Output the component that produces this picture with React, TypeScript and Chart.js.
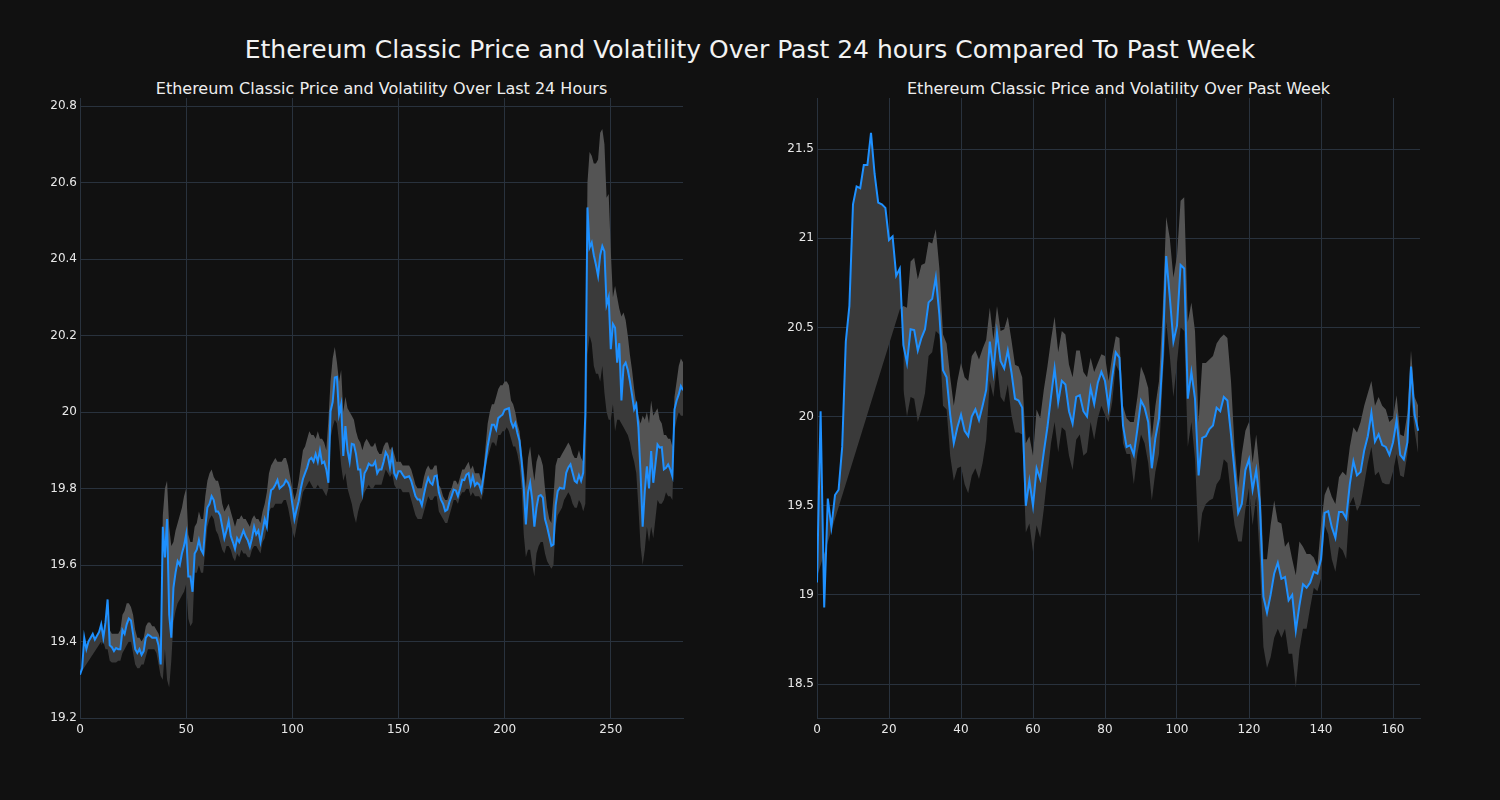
import React, { useEffect, useRef } from "react";
import { Chart, registerables } from "chart.js";

Chart.register(...registerables);

const MAIN_TITLE = "Ethereum Classic Price and Volatility Over Past 24 hours Compared To Past Week";
const LEFT_TITLE = "Ethereum Classic Price and Volatility Over Last 24 Hours";
const RIGHT_TITLE = "Ethereum Classic Price and Volatility Over Past Week";

// ---- Last 24 hours (index 0..284) ----
const dayPrice: number[] = [
  19.313, 19.33, 19.41, 19.38, 19.40, 19.41, 19.42, 19.405, 19.415, 19.425,
  19.445, 19.41, 19.45, 19.51, 19.39, 19.385, 19.375, 19.383, 19.38, 19.38,
  19.43, 19.42, 19.445, 19.46, 19.455, 19.42, 19.38, 19.37, 19.38, 19.365,
  19.375, 19.41, 19.418, 19.415, 19.41, 19.41, 19.41, 19.39, 19.34, 19.70,
  19.62, 19.72, 19.47, 19.41, 19.54, 19.58, 19.61, 19.60, 19.63, 19.65,
  19.68, 19.57, 19.57, 19.53, 19.63, 19.64, 19.665, 19.64, 19.63, 19.70,
  19.75, 19.76, 19.78, 19.77, 19.74, 19.74, 19.73, 19.70, 19.67, 19.69,
  19.715, 19.676, 19.66, 19.642, 19.67, 19.66, 19.675, 19.69, 19.675, 19.665,
  19.647, 19.67, 19.70, 19.68, 19.69, 19.66, 19.69, 19.72, 19.70, 19.76,
  19.796, 19.80, 19.81, 19.822, 19.80, 19.805, 19.81, 19.822, 19.815, 19.80,
  19.76, 19.72, 19.745, 19.767, 19.80, 19.825, 19.84, 19.855, 19.875, 19.88,
  19.87, 19.89, 19.87, 19.90, 19.866, 19.87, 19.85, 19.815, 20.002, 20.026,
  20.09, 20.092, 19.994, 20.02, 19.885, 19.963, 19.90, 19.87, 19.917, 19.915,
  19.89, 19.85, 19.85, 19.794, 19.84, 19.85, 19.865, 19.86, 19.86, 19.87,
  19.84, 19.85, 19.85, 19.87, 19.895, 19.885, 19.855, 19.89, 19.84, 19.828,
  19.845, 19.845, 19.836, 19.828, 19.83, 19.832, 19.82, 19.80, 19.78, 19.771,
  19.771, 19.756, 19.785, 19.81, 19.828, 19.815, 19.81, 19.832, 19.834, 19.79,
  19.771, 19.76, 19.741, 19.745, 19.765, 19.78, 19.797, 19.795, 19.78, 19.80,
  19.823, 19.822, 19.836, 19.84, 19.81, 19.832, 19.808, 19.815, 19.81, 19.793,
  19.83, 19.87, 19.91, 19.94, 19.967, 19.967, 19.954, 19.984, 19.989, 19.993,
  20.006, 20.008, 20.01, 19.975, 19.96, 19.971, 19.945, 19.925, 19.87, 19.80,
  19.706, 19.79, 19.815, 19.77, 19.70, 19.75, 19.78, 19.783, 19.776, 19.72,
  19.70, 19.675, 19.65, 19.654, 19.755, 19.793, 19.802, 19.80, 19.80, 19.841,
  19.855, 19.863, 19.841, 19.82, 19.815, 19.835, 19.82, 19.841, 19.994, 20.535,
  20.43, 20.443, 20.41, 20.385, 20.356, 20.41, 20.434, 20.42, 20.28, 20.30,
  20.164, 20.23, 20.22, 20.129, 20.18, 20.03, 20.12, 20.129, 20.11, 20.08,
  20.045, 20.007, 20.02, 19.96, 19.84, 19.70, 19.793, 19.858, 19.80, 19.898,
  19.815, 19.863, 19.915, 19.907, 19.908, 19.85, 19.854, 19.863, 19.85, 19.832,
  20.007, 20.03, 20.046, 20.068, 20.057,
];

const dayUpper: (number | null)[] = [
  19.315, null, null, null, null, null, null, null, null, null,
  19.40, 19.42, 19.44, 19.45, 19.43, 19.42, 19.42, 19.42, 19.42, 19.43,
  19.47, 19.48, 19.50, 19.50, 19.49, 19.47, 19.43, 19.41, 19.41, 19.40,
  19.41, 19.44, 19.45, 19.45, 19.44, 19.44, 19.43, 19.42, 19.40, 19.73,
  19.80, 19.82, 19.70, 19.65, 19.66, 19.69, 19.71, 19.73, 19.75, 19.78,
  19.80, 19.68, 19.66, 19.66, 19.70, 19.71, 19.74, 19.72, 19.72, 19.78,
  19.82, 19.84, 19.85, 19.83, 19.82, 19.82, 19.80, 19.76, 19.74, 19.75,
  19.76, 19.74, 19.72, 19.70, 19.72, 19.72, 19.73, 19.72, 19.72, 19.71,
  19.70, 19.72, 19.73, 19.72, 19.72, 19.71, 19.74, 19.76, 19.79, 19.84,
  19.86, 19.87, 19.88, 19.87, 19.87, 19.87, 19.88, 19.88, 19.86, 19.83,
  19.80, 19.77, 19.79, 19.82, 19.86, 19.90, 19.91, 19.93, 19.95, 19.94,
  19.94, 19.93, 19.95, 19.93, 19.93, 19.92, 19.90, 19.98, 20.08, 20.14,
  20.17, 20.13, 20.08, 20.11, 20.00, 20.04, 20.01, 20.00, 19.99, 19.98,
  19.95, 19.93, 19.92, 19.90, 19.92, 19.93, 19.92, 19.91, 19.91, 19.92,
  19.90, 19.89, 19.89, 19.91, 19.92, 19.92, 19.90, 19.91, 19.89, 19.87,
  19.87, 19.87, 19.86, 19.86, 19.86, 19.86, 19.85, 19.83, 19.81, 19.80,
  19.80, 19.80, 19.83, 19.85, 19.86, 19.85, 19.85, 19.86, 19.86, 19.81,
  19.80, 19.78, 19.77, 19.77, 19.79, 19.80, 19.82, 19.82, 19.81, 19.83,
  19.85, 19.85, 19.86, 19.87, 19.85, 19.86, 19.84, 19.84, 19.84, 19.82,
  19.85, 19.91, 19.97, 20.00, 20.02, 20.02, 20.04, 20.06, 20.07, 20.07,
  20.08, 20.08, 20.07, 20.03, 20.02, 20.00, 19.97, 19.95, 19.90, 19.85,
  19.80, 19.88, 19.91, 19.86, 19.82, 19.87, 19.89, 19.88, 19.86, 19.80,
  19.75, 19.72, 19.71, 19.78, 19.86, 19.88, 19.88, 19.89, 19.90, 19.91,
  19.92, 19.91, 19.89, 19.88, 19.88, 19.90, 19.88, 19.87, 20.00, 20.60,
  20.68, 20.67, 20.65, 20.65, 20.66, 20.73, 20.74, 20.70, 20.56, 20.57,
  20.42, 20.30, 20.33, 20.30, 20.27, 20.25, 20.26, 20.24, 20.20, 20.15,
  20.11, 20.06, 20.02, 19.99, 19.97, 19.99, 19.98, 20.00, 19.97, 20.03,
  19.99, 20.00, 20.01, 19.98, 19.97, 19.94, 19.94, 19.93, 19.93, 19.91,
  20.04, 20.08, 20.12, 20.14, 20.13,
];

const dayLower: (number | null)[] = [
  null, null, null, null, null, null, null, null, null, null,
  19.39, 19.40, 19.38, 19.38, 19.35, 19.345, 19.345, 19.345, 19.35, 19.35,
  19.37, 19.38, 19.39, 19.40, 19.40, 19.37, 19.34, 19.33, 19.33, 19.34,
  19.34, 19.36, 19.38, 19.38, 19.38, 19.38, 19.37, 19.34, 19.31, 19.30,
  19.38, 19.30, 19.28, 19.35, 19.45, 19.48, 19.50, 19.51, 19.52, 19.53,
  19.55, 19.46, 19.44, 19.45, 19.58, 19.58, 19.60, 19.58, 19.58, 19.64,
  19.70, 19.72, 19.73, 19.72, 19.69, 19.68, 19.66, 19.64, 19.63, 19.65,
  19.65, 19.64, 19.62, 19.61, 19.63, 19.62, 19.64, 19.63, 19.63, 19.62,
  19.62, 19.64, 19.65, 19.65, 19.64, 19.63, 19.66, 19.67, 19.70, 19.74,
  19.75, 19.75, 19.76, 19.76, 19.76, 19.76, 19.77, 19.77, 19.75, 19.72,
  19.69, 19.67, 19.70, 19.73, 19.76, 19.79, 19.80, 19.81, 19.82, 19.81,
  19.80, 19.80, 19.81, 19.80, 19.80, 19.79, 19.78, 19.80, 19.93, 19.96,
  19.98, 19.97, 19.92, 19.86, 19.82, 19.84, 19.80, 19.78, 19.76, 19.73,
  19.71, 19.74, 19.76, 19.77, 19.79, 19.80, 19.81, 19.80, 19.80, 19.81,
  19.81, 19.81, 19.81, 19.83, 19.85, 19.84, 19.83, 19.84, 19.81, 19.80,
  19.80, 19.80, 19.79, 19.79, 19.79, 19.79, 19.77, 19.75, 19.73, 19.72,
  19.72, 19.72, 19.74, 19.76, 19.78, 19.77, 19.77, 19.78, 19.78, 19.74,
  19.73, 19.72, 19.71, 19.71, 19.73, 19.75, 19.77, 19.77, 19.76, 19.78,
  19.79, 19.79, 19.80, 19.80, 19.78, 19.79, 19.78, 19.78, 19.78, 19.77,
  19.79, 19.85, 19.88, 19.90, 19.92, 19.92, 19.91, 19.94, 19.94, 19.95,
  19.95, 19.96, 19.95, 19.93, 19.91, 19.91, 19.89, 19.86, 19.80, 19.68,
  19.62, 19.64, 19.64, 19.60, 19.57, 19.63, 19.65, 19.66, 19.66, 19.63,
  19.61, 19.60, 19.59, 19.60, 19.70, 19.73, 19.74, 19.75, 19.77, 19.78,
  19.79, 19.78, 19.76, 19.75, 19.75, 19.77, 19.76, 19.74, 19.76, 20.15,
  20.20, 20.18, 20.12, 20.10, 20.10, 20.08, 20.12, 20.05, 20.00, 19.98,
  19.98, 20.02, 19.95, 19.98, 19.98, 19.97, 19.96, 19.95, 19.94, 19.92,
  19.89, 19.87, 19.84, 19.75, 19.65, 19.60, 19.64, 19.70, 19.66, 19.70,
  19.67, 19.72, 19.77, 19.76, 19.76, 19.77, 19.79, 19.78, 19.78, 19.77,
  19.95, 19.98, 20.00, 19.99, 19.99,
];

// ---- Past week (index 0..167) ----
const weekPrice: number[] = [
  19.07, 20.03, 18.93, 19.54, 19.38, 19.56, 19.59, 19.83, 20.42, 20.62,
  21.19, 21.29, 21.28, 21.41, 21.41, 21.59, 21.36, 21.20, 21.19, 21.17,
  20.99, 21.01, 20.79, 20.83, 20.40, 20.30, 20.49, 20.485, 20.37, 20.44,
  20.49, 20.64, 20.66, 20.78, 20.57, 20.26, 20.22, 20.01, 19.85, 19.94,
  20.01, 19.92, 19.89, 20.00, 20.04, 19.98, 20.06, 20.15, 20.42, 20.25,
  20.47, 20.31, 20.27, 20.37, 20.25, 20.10, 20.09, 20.05, 19.50, 19.64,
  19.50, 19.71, 19.65, 19.80, 19.94, 20.11, 20.27, 20.08, 20.20, 20.18,
  20.03, 19.96, 20.11, 20.12, 20.03, 20.00, 20.16, 20.07, 20.19, 20.25,
  20.20, 20.05, 20.22, 20.36, 20.33, 19.95, 19.83, 19.84, 19.785, 19.93,
  20.09, 20.05, 19.97, 19.71, 19.88, 19.99, 20.34, 20.90, 20.67, 20.42,
  20.51, 20.85, 20.83, 20.10, 20.25, 20.10, 19.67, 19.88, 19.89, 19.93,
  19.95, 20.05, 20.03, 20.11, 20.09, 19.90, 19.69, 19.46, 19.51, 19.70,
  19.76, 19.59, 19.70, 19.52, 18.99, 18.90, 19.00, 19.12, 19.18, 19.09,
  19.10, 18.97, 19.00, 18.80, 18.94, 19.06, 19.04, 19.07, 19.13, 19.12,
  19.20, 19.46, 19.47, 19.38, 19.32, 19.465, 19.465, 19.43, 19.62, 19.75,
  19.67, 19.69, 19.81, 19.89, 20.02, 19.86, 19.90, 19.84, 19.83, 19.785,
  19.855, 19.98, 19.785, 19.76, 19.855, 20.28, 20.01, 19.92,
];

const weekUpper: (number | null)[] = [
  19.10, null, null, null, null, null, null, null, null, null,
  null, null, null, null, null, null, null, null, null, null,
  null, null, null, 20.60, 20.62, 20.61, 20.87, 20.89, 20.77, 20.85,
  20.86, 20.98, 20.97, 21.05, 20.83, 20.46, 20.41, 20.22, 20.06, 20.20,
  20.30, 20.22, 20.20, 20.34, 20.37, 20.32, 20.38, 20.43, 20.61, 20.43,
  20.62, 20.48, 20.49, 20.56, 20.43, 20.29, 20.28, 20.22, 19.85, 19.89,
  19.78, 20.04, 19.99, 20.15, 20.28, 20.43, 20.56, 20.36, 20.48, 20.46,
  20.29, 20.22, 20.37, 20.37, 20.25, 20.22, 20.33, 20.25, 20.30, 20.35,
  20.34, 20.20, 20.34, 20.45, 20.44, 20.06, 19.99, 19.97, 19.97, 20.11,
  20.28, 20.23, 20.16, 19.88, 20.06, 20.20, 20.58, 21.12, 21.00, 20.78,
  20.90, 21.21, 21.23, 20.53, 20.64, 20.48, 19.97, 20.30, 20.30, 20.32,
  20.34, 20.41, 20.44, 20.46, 20.44, 20.20, 19.83, 19.60, 19.79, 19.92,
  19.97, 19.74, 19.90, 19.69, 19.20, 19.20, 19.39, 19.53, 19.41, 19.40,
  19.27, 19.30, 19.20, 19.11, 19.30, 19.27, 19.23, 19.23, 19.21, 19.16,
  19.39, 19.56, 19.61, 19.55, 19.51, 19.66, 19.69, 19.67, 19.83, 19.94,
  19.91, 19.97, 20.06, 20.13, 20.20, 20.06, 20.11, 20.06, 20.04, 19.97,
  19.99, 20.12, 19.90, 19.89, 20.02, 20.37, 20.11, 20.06,
];

const weekLower: (number | null)[] = [
  null, null, null, null, null, null, null, null, null, null,
  null, null, null, null, null, null, null, null, null, null,
  null, null, null, null, 20.15, 20.00, 20.11, 20.10, 19.97, 20.04,
  20.13, 20.34, 20.36, 20.48, 20.46, 20.06, 20.04, 19.78, 19.64, 19.71,
  19.72, 19.62, 19.57, 19.67, 19.71, 19.65, 19.74, 19.87, 20.20, 20.11,
  20.29, 20.11, 20.08, 20.18, 20.01, 19.91, 19.91, 19.90, 19.35, 19.40,
  19.24, 19.39, 19.32, 19.48, 19.67, 19.85, 19.97, 19.80, 19.94, 19.92,
  19.78, 19.70, 19.87, 19.90, 19.78, 19.80, 19.97, 19.87, 19.99, 20.06,
  20.01, 19.97, 20.08, 20.29, 20.25, 19.85, 19.79, 19.79, 19.62, 19.79,
  19.90, 19.85, 19.74, 19.53, 19.69, 19.79, 20.20, 20.53, 20.34, 20.11,
  20.30, 20.50, 20.48, 19.83, 19.97, 19.76, 19.29, 19.46, 19.51, 19.53,
  19.54, 19.62, 19.65, 19.76, 19.74, 19.55, 19.39, 19.30, 19.30, 19.48,
  19.60, 19.39, 19.55, 19.20, 18.71, 18.59, 18.65, 18.76, 18.81, 18.76,
  18.81, 18.67, 18.67, 18.48, 18.69, 18.81, 18.81, 18.93, 19.04, 19.02,
  19.09, 19.39, 19.34, 19.20, 19.13, 19.27, 19.25, 19.20, 19.51, 19.55,
  19.47, 19.51, 19.62, 19.74, 19.83, 19.67, 19.69, 19.63, 19.62, 19.62,
  19.69, 19.79, 19.67, 19.66, 19.79, 20.11, 19.92, 19.79,
];

const BG = "#111111";
const GRID = "#29323d";
const TICK_COLOR = "#e8e8e8";
const LINE_COLOR = "#1e90ff";
const BAND_LIGHT = "#545454";
const BAND_DARK = "#3a3a3a";

function fmtTick(v: number): string {
  const r = Math.round(v * 10) / 10;
  return Number.isInteger(r) ? String(r) : r.toFixed(1);
}

function toPts(arr: (number | null)[]) {
  return arr.map((y, i) => ({ x: i, y }));
}

interface PanelCfg {
  price: number[];
  upper: (number | null)[];
  lower: (number | null)[];
  xMax: number;
  xStep: number;
  yMin: number;
  yMax: number;
  yStep: number;
  yAxisWidth: number;
  padRight: number;
}

function buildConfig(p: PanelCfg): any {
  return {
    type: "line",
    data: {
      datasets: [
        {
          data: toPts(p.price),
          borderColor: LINE_COLOR,
          borderWidth: 2,
          pointRadius: 0,
          fill: false,
          tension: 0,
        },
        {
          data: toPts(p.upper),
          borderWidth: 0,
          borderColor: "rgba(0,0,0,0)",
          pointRadius: 0,
          spanGaps: true,
          fill: { target: 0, above: BAND_LIGHT, below: BAND_DARK },
        },
        {
          data: toPts(p.lower),
          borderWidth: 0,
          borderColor: "rgba(0,0,0,0)",
          pointRadius: 0,
          spanGaps: false,
          fill: { target: 0, above: BAND_DARK, below: BAND_DARK },
        },
      ],
    },
    options: {
      animation: false,
      responsive: false,
      maintainAspectRatio: false,
      devicePixelRatio: 1,
      events: [],
      layout: { padding: { left: 0, top: 98, right: p.padRight, bottom: 0 } },
      plugins: {
        legend: { display: false },
        tooltip: { enabled: false },
        title: { display: false },
      },
      scales: {
        x: {
          type: "linear",
          min: 0,
          max: p.xMax,
          afterFit: (s: any) => {
            s.height = 82;
          },
          grid: { color: GRID, lineWidth: 1, drawTicks: false },
          border: { color: GRID, width: 1 },
          ticks: {
            stepSize: p.xStep,
            includeBounds: false,
            color: TICK_COLOR,
            padding: 5,
            maxRotation: 0,
            autoSkip: false,
            font: { family: "DejaVu Sans", size: 12 },
            callback: (v: number) => String(v),
          },
        },
        y: {
          type: "linear",
          min: p.yMin,
          max: p.yMax,
          afterFit: (s: any) => {
            s.width = p.yAxisWidth;
          },
          grid: { color: GRID, lineWidth: 1, drawTicks: false },
          border: { color: GRID, width: 1 },
          ticks: {
            stepSize: p.yStep,
            includeBounds: false,
            color: TICK_COLOR,
            padding: 3,
            autoSkip: false,
            font: { family: "DejaVu Sans", size: 12 },
            callback: (v: number) => fmtTick(v),
          },
        },
      },
    },
  };
}

function Panel(props: { cfg: PanelCfg; left: number }) {
  const ref = useRef<HTMLCanvasElement | null>(null);
  useEffect(() => {
    if (!ref.current) return;
    const chart = new Chart(ref.current, buildConfig(props.cfg));
    return () => chart.destroy();
  }, []);
  return (
    <canvas
      ref={ref}
      width={750}
      height={800}
      style={{ position: "absolute", left: props.left, top: 0, width: 750, height: 800 }}
    />
  );
}

const leftCfg: PanelCfg = {
  price: dayPrice,
  upper: dayUpper,
  lower: dayLower,
  xMax: 284,
  xStep: 50,
  yMin: 19.2,
  yMax: 20.821,
  yStep: 0.2,
  yAxisWidth: 80,
  padRight: 67,
};

const rightCfg: PanelCfg = {
  price: weekPrice,
  upper: weekUpper,
  lower: weekLower,
  xMax: 167.5,
  xStep: 20,
  yMin: 18.31,
  yMax: 21.786,
  yStep: 0.5,
  yAxisWidth: 67,
  padRight: 80,
};

export default function App() {
  useEffect(() => {
    document.body.style.margin = "0";
    document.body.style.background = BG;
  }, []);
  const titleFont = "'DejaVu Sans', sans-serif";
  return (
    <div
      style={{
        position: "fixed",
        left: 0,
        top: 0,
        width: 1500,
        height: 800,
        background: BG,
        overflow: "hidden",
        fontFamily: titleFont,
      }}
    >
      <div
        style={{
          position: "absolute",
          left: 0,
          top: 35,
          width: 1500,
          textAlign: "center",
          fontSize: 25,
          lineHeight: "30px",
          color: "#f2f2f2",
          whiteSpace: "nowrap",
        }}
      >
        {MAIN_TITLE}
      </div>
      <div
        style={{
          position: "absolute",
          left: 80,
          top: 79,
          width: 603,
          textAlign: "center",
          fontSize: 16,
          lineHeight: "20px",
          color: "#eeeeee",
          whiteSpace: "nowrap",
        }}
      >
        {LEFT_TITLE}
      </div>
      <div
        style={{
          position: "absolute",
          left: 817,
          top: 79,
          width: 603,
          textAlign: "center",
          fontSize: 16,
          lineHeight: "20px",
          color: "#eeeeee",
          whiteSpace: "nowrap",
        }}
      >
        {RIGHT_TITLE}
      </div>
      <Panel cfg={leftCfg} left={0} />
      <Panel cfg={rightCfg} left={750} />
    </div>
  );
}
